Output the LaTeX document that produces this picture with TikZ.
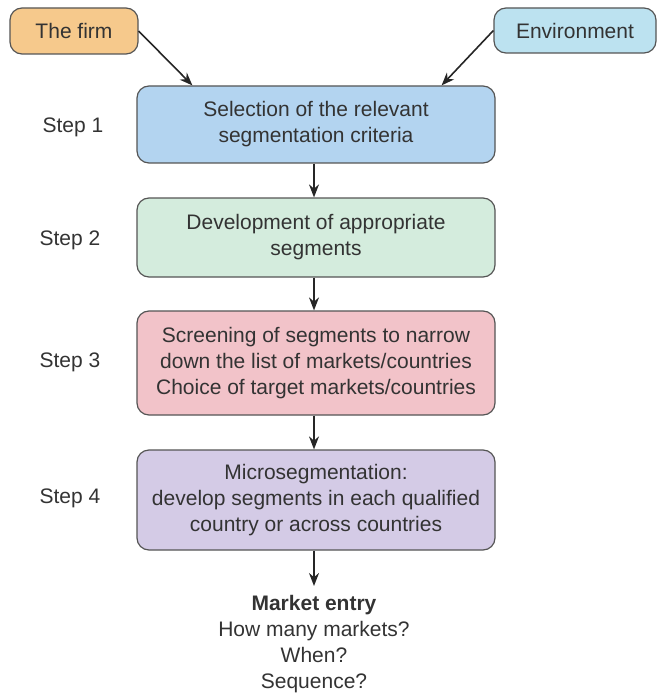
\documentclass[tikz,border=0pt]{standalone}
\usepackage{fontspec}
\setmainfont{Liberation Sans}
\usetikzlibrary{arrows.meta,calc}
\definecolor{cfirm}{HTML}{F6C98C}
\definecolor{cenv}{HTML}{BCE2F0}
\definecolor{cone}{HTML}{B3D4F0}
\definecolor{ctwo}{HTML}{D4ECDD}
\definecolor{cthree}{HTML}{F2C3C9}
\definecolor{cfour}{HTML}{D4CBE6}
\definecolor{ctext}{HTML}{333333}
\definecolor{cline}{HTML}{555555}
\begin{document}
\begin{tikzpicture}[x=1pt,y=-1pt,
  every node/.style={font=\fontsize{21}{26}\selectfont, text=ctext},
  box/.style={draw=cline, line width=1.2pt, rounded corners=12pt, align=center, inner sep=0pt},
  stepbox/.style={box, minimum width=358pt},
  steplabel/.style={anchor=center},
  arr/.style={-{Stealth[length=13pt,width=10pt]}, line width=1.6pt, draw=black!85}]
\useasboundingbox (0,0) rectangle (658,695);
\node[box, fill=cfirm, minimum width=128pt, minimum height=46pt] (firm) at (74,31) {The firm};
\node[box, fill=cenv, minimum width=162pt, minimum height=45pt] (env) at (575,30.5) {Environment};
\node[stepbox, fill=cone, minimum height=77pt] (s1) at (316,124.5) {Selection of the relevant\\segmentation criteria};
\node[stepbox, fill=ctwo, minimum height=79pt] (s2) at (316,237.5) {Development of appropriate\\segments};
\node[stepbox, fill=cthree, minimum height=104pt] (s3) at (316,363) {Screening of segments to narrow\\down the list of markets/countries\\Choice of target markets/countries};
\node[stepbox, fill=cfour, minimum height=100pt] (s4) at (316,500) {Microsegmentation:\\develop segments in each qualified\\country or across countries};
\node[steplabel] (l1) at (73,127) {Step 1};
\node[steplabel] (l2) at (70,240) {Step 2};
\node[steplabel] (l3) at (70,362) {Step 3};
\node[steplabel] (l4) at (70,498) {Step 4};
\node[align=center, anchor=north, inner sep=0pt] (me) at (314,595) {\textbf{Market entry}\\How many markets?\\When?\\Sequence?};
\draw[arr] (firm.east) -- ($(s1.north west)+(56,0)$);
\draw[arr] (env.west) -- ($(s1.north east)+(-54,0)$);
\draw[arr] ($(s1.south)+(-2,0)$) -- ($(s2.north)+(-2,0)$);
\draw[arr] ($(s2.south)+(-2,0)$) -- ($(s3.north)+(-2,0)$);
\draw[arr] ($(s3.south)+(-2,0)$) -- ($(s4.north)+(-2,0)$);
\draw[arr] ($(s4.south)+(-2,0)$) -- ($(me.north)+(0,-9)$);
\end{tikzpicture}
\end{document}
